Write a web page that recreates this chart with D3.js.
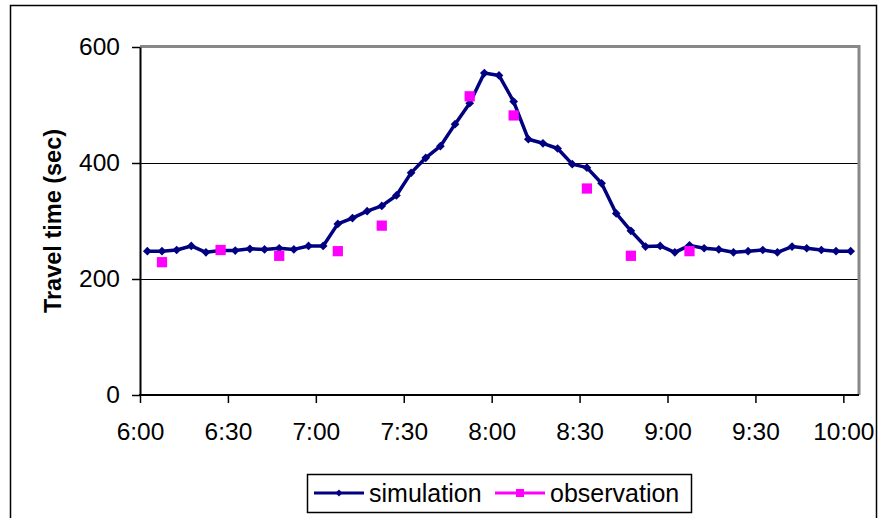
<!DOCTYPE html>
<html>
<head>
<meta charset="utf-8">
<script src="https://cdn.jsdelivr.net/npm/d3@7"></script>
<style>
  body { margin: 0; background: #fff; }
  svg { display: block; font-family: "Liberation Sans", Arial, sans-serif; }
</style>
</head>
<body>
<script>
// 5-minute simulation intervals (start times), one category each
var intervals = [
  "6:00","6:05","6:10","6:15","6:20","6:25","6:30","6:35","6:40","6:45",
  "6:50","6:55","7:00","7:05","7:10","7:15","7:20","7:25","7:30","7:35",
  "7:40","7:45","7:50","7:55","8:00","8:05","8:10","8:15","8:20","8:25",
  "8:30","8:35","8:40","8:45","8:50","8:55","9:00","9:05","9:10","9:15",
  "9:20","9:25","9:30","9:35","9:40","9:45","9:50","9:55","10:00"
];

var simulation = [
  248, 248, 250, 257, 246, 249, 249, 252, 251, 253,
  251, 257, 257, 295, 305, 317, 326, 344, 383, 409,
  429, 467, 503, 555, 551, 506, 441, 434, 425, 398,
  392, 365, 313, 283, 256, 257, 246, 258, 253, 251,
  246, 248, 250, 246, 256, 253, 250, 248, 248
];

var obsTimes  = ["6:05","6:25","6:45","7:05","7:20","7:50","8:05","8:30","8:45","9:05"];
var obsValues = [229, 250, 240, 248, 292, 515, 482, 356, 240, 248];

var xTickLabels = ["6:00","6:30","7:00","7:30","8:00","8:30","9:00","9:30","10:00"];
var yTickValues = [0, 200, 400, 600];

// note: "top" is taken by window.top, so the plot box gets its own names
var W = 888, H = 518,
    plotL = 140, plotR = 858, plotT = 47, plotB = 395;

var navy = "#000080", magenta = "#ff00ff";

var svg = d3.select("body").append("svg")
  .attr("width", W)
  .attr("height", H);

// outer chart border (bottom runs off the picture)
svg.append("rect")
  .attr("x", 10.5).attr("y", 5.5)
  .attr("width", 866).attr("height", 530)
  .attr("fill", "none")
  .attr("stroke", "#000")
  .attr("stroke-width", 1.5);

var x = d3.scaleBand()
  .domain(intervals)
  .range([plotL, plotR]);

var cx = function(d) { return x(d) + x.bandwidth() / 2; };

var y = d3.scaleLinear()
  .domain([0, 600])
  .range([plotB, plotT]);

// gridlines
svg.append("g")
  .selectAll("line")
  .data(yTickValues.filter(function(v) { return v > 0 && v < 600; }))
  .enter().append("line")
    .attr("x1", plotL).attr("x2", plotR)
    .attr("y1", function(d) { return y(d) + 0.5; })
    .attr("y2", function(d) { return y(d) + 0.5; })
    .attr("stroke", "#000")
    .attr("stroke-width", 1)
    .attr("shape-rendering", "crispEdges");

// plot area border, grey on top and right
svg.append("path")
  .attr("d", "M" + plotL + "," + (plotT - 0.5) + "H" + (plotR + 1) + "V" + plotB)
  .attr("fill", "none")
  .attr("stroke", "#888")
  .attr("stroke-width", 3);

// y axis
var yAxis = svg.append("g")
  .attr("transform", "translate(" + plotL + ",0)")
  .call(d3.axisLeft(y).tickValues(yTickValues).tickSize(8).tickPadding(12).tickSizeOuter(0));
yAxis.select(".domain").attr("stroke-width", 2);
yAxis.selectAll(".tick line").attr("stroke-width", 1.5);
yAxis.selectAll("text").attr("font-size", 24.5).attr("fill", "#000")
  .style("font-family", "'Liberation Sans', Arial, sans-serif");

// x axis: ticks sit on the interval boundaries
var xTicks = d3.scaleOrdinal()
  .domain(xTickLabels)
  .range(xTickLabels.map(function(t) { return x(t); }));

var xAxis = svg.append("g")
  .attr("transform", "translate(0," + plotB + ")")
  .call(d3.axisBottom(xTicks).tickSize(8).tickPadding(20));
xAxis.select(".domain").remove();
xAxis.append("line")
  .attr("x1", plotL - 1).attr("x2", plotR + 1)
  .attr("stroke", "#000").attr("stroke-width", 2);
xAxis.selectAll(".tick line").attr("stroke-width", 1.5);
xAxis.selectAll("text").attr("font-size", 24.5).attr("fill", "#000")
  .style("font-family", "'Liberation Sans', Arial, sans-serif");

// axis title
svg.append("text")
  .attr("transform", "translate(61," + ((plotT + plotB) / 2) + ")rotate(-90)")
  .attr("text-anchor", "middle")
  .attr("font-size", 23.5)
  .attr("font-weight", "bold")
  .text("Travel time (sec)");

// simulation line
var line = d3.line()
  .x(function(d, i) { return cx(intervals[i]); })
  .y(function(d) { return y(d); });

svg.append("path")
  .datum(simulation)
  .attr("d", line)
  .attr("fill", "none")
  .attr("stroke", navy)
  .attr("stroke-width", 3.5)
  .attr("stroke-linejoin", "round");

var diamond = d3.symbol().type(d3.symbolSquare).size(38);

svg.append("g")
  .selectAll("path")
  .data(simulation)
  .enter().append("path")
    .attr("d", diamond)
    .attr("fill", navy)
    .attr("transform", function(d, i) {
      return "translate(" + cx(intervals[i]) + "," + y(d) + ")rotate(45)";
    });

// observations
var square = d3.symbol().type(d3.symbolSquare).size(105);

svg.append("g")
  .selectAll("path")
  .data(obsValues)
  .enter().append("path")
    .attr("d", square)
    .attr("fill", magenta)
    .attr("transform", function(d, i) {
      return "translate(" + cx(obsTimes[i]) + "," + y(d) + ")";
    });

// legend
var legend = svg.append("g");
legend.append("rect")
  .attr("x", 307.5).attr("y", 474.5)
  .attr("width", 384).attr("height", 38)
  .attr("fill", "#fff")
  .attr("stroke", "#000")
  .attr("stroke-width", 1.5);

var entries = [
  { name: "simulation", color: navy, x0: 314, sym: d3.symbol().type(d3.symbolSquare).size(24), rot: 45 },
  { name: "observation", color: magenta, x0: 495, sym: d3.symbol().type(d3.symbolSquare).size(64), rot: 0 }
];

entries.forEach(function(e) {
  legend.append("line")
    .attr("x1", e.x0).attr("x2", e.x0 + 50)
    .attr("y1", 493).attr("y2", 493)
    .attr("stroke", e.color)
    .attr("stroke-width", 3);
  legend.append("path")
    .attr("d", e.sym)
    .attr("fill", e.color)
    .attr("transform", "translate(" + (e.x0 + 25) + ",493)rotate(" + e.rot + ")");
  legend.append("text")
    .attr("x", e.x0 + 55)
    .attr("y", 502)
    .attr("font-size", 25)
    .text(e.name);
});
</script>
</body>
</html>
